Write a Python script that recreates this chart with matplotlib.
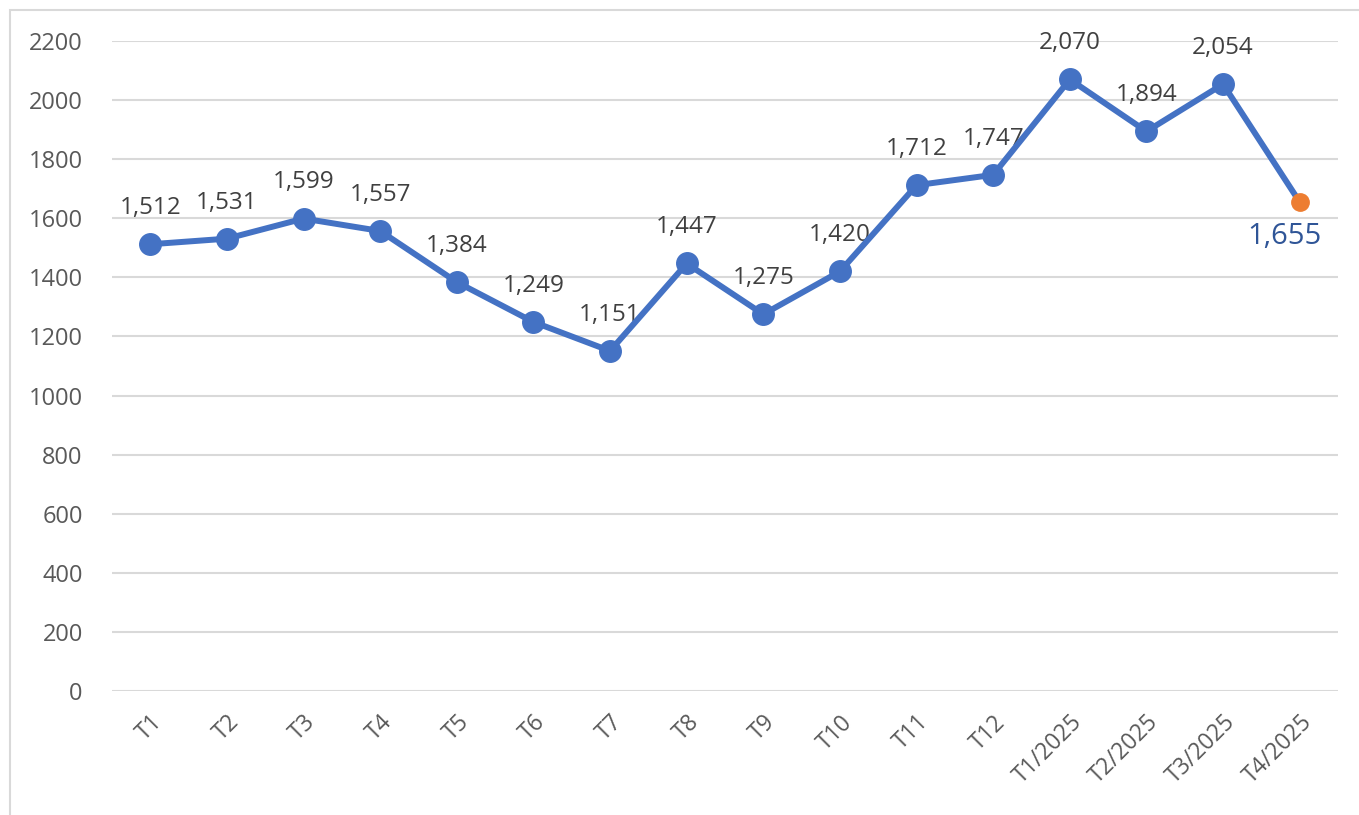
import matplotlib.pyplot as plt
from matplotlib.patches import Rectangle

periods = ['T1', 'T2', 'T3', 'T4', 'T5', 'T6', 'T7', 'T8', 'T9', 'T10', 'T11', 'T12',
           'T1/2025', 'T2/2025', 'T3/2025', 'T4/2025']
values = [1512, 1531, 1599, 1557, 1384, 1249, 1151, 1447, 1275, 1420, 1712, 1747,
          2070, 1894, 2054, 1655]
yticks = [0, 200, 400, 600, 800, 1000, 1200, 1400, 1600, 1800, 2000, 2200]

plt.rcParams['font.family'] = ['Open Sans', 'DejaVu Sans']

fig = plt.figure(figsize=(13.59, 8.15), dpi=100)
ax = fig.add_axes([112 / 1359, 1 - 691 / 815, (1338 - 112) / 1359, (691 - 41) / 815])

# outer frame of the chart area
fig.patches.append(Rectangle((10 / 1359, -0.1), 1.2, 1 - 10 / 815 + 0.1, transform=fig.transFigure,
                             fill=False, edgecolor='#d9d9d9', linewidth=1.5))

x = list(range(len(periods)))
ax.plot(x, values, color='#4472C4', linewidth=4.3, zorder=3)
ax.plot(x[:-1], values[:-1], 'o', color='#4472C4', markersize=15.5, zorder=4)
ax.plot(x[-1], values[-1], 'o', color='#ED7D31', markersize=12.5, zorder=5)

for i, v in enumerate(values[:-1]):
    ax.annotate('{:,}'.format(v), (i, v), xytext=(0, 26), textcoords='offset points',
                ha='center', va='center', fontsize=17.5, color='#404040', zorder=2)
ax.annotate('{:,}'.format(values[-1]), (x[-1], values[-1]), xytext=(-11, -25),
            textcoords='offset points', ha='center', va='center', fontsize=21,
            color='#2F5597', zorder=6)

ax.set_xlim(-0.5, len(periods) - 0.5)
ax.set_ylim(0, 2200)
ax.set_yticks(yticks)
ax.set_yticklabels([str(t) for t in yticks], fontsize=17, color='#595959')
ax.set_xticks(x)
ax.set_xticklabels(periods, rotation=45, ha='right', rotation_mode='anchor',
                   fontsize=16.5, color='#595959')
ax.tick_params(axis='y', length=0, pad=21)
ax.tick_params(axis='x', length=0, pad=14)
ax.grid(axis='y', color='#d9d9d9', linewidth=1.5)
ax.set_axisbelow(True)
for s in ax.spines.values():
    s.set_visible(False)

fig.savefig('out.png', dpi=100)
